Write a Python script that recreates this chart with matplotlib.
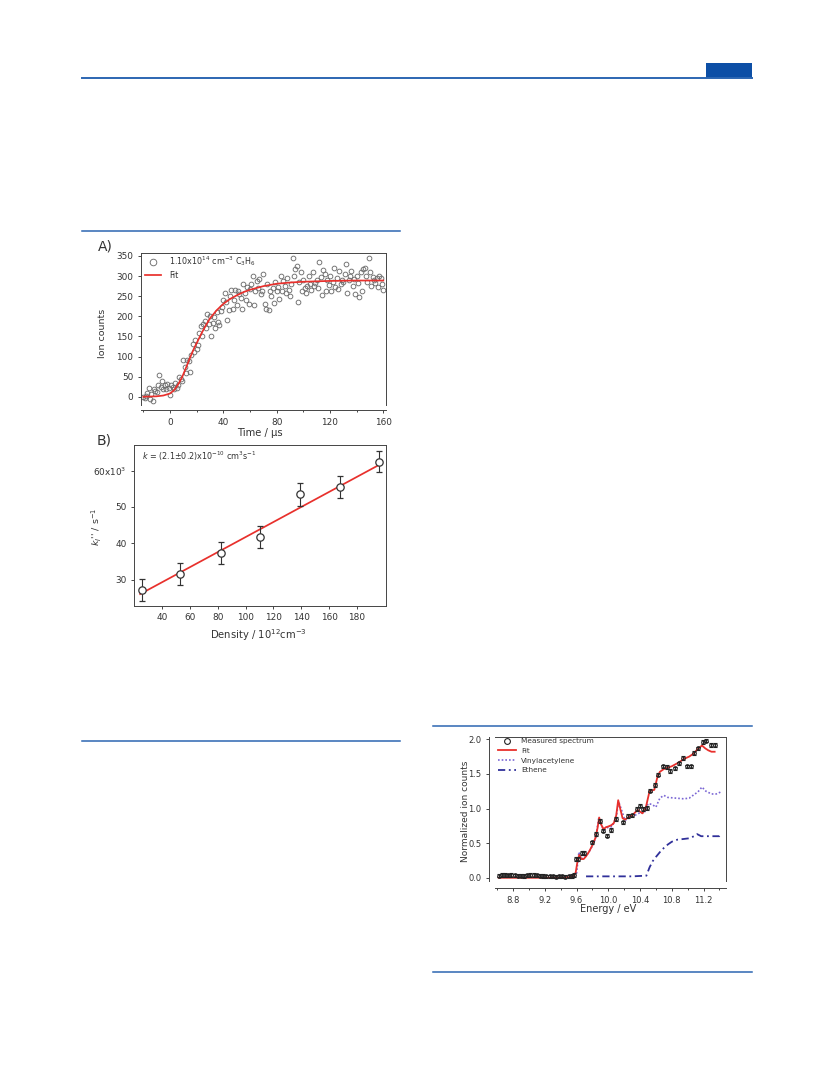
import matplotlib
matplotlib.use('Agg')
import matplotlib.pyplot as plt
from matplotlib.lines import Line2D
from matplotlib.patches import Rectangle
from matplotlib.ticker import MultipleLocator

W, H = 833, 1091

# ---------------- panel A : ion signal vs time ----------------
t_us = list(range(-20, 161))
ion_counts = [
    0, -2, 3, 10, 22, -5, 8, -10, 20, 14,
    12, 30, 55, 25, 38, 20, 28, 18, 32, 22,
    5, 28, 24, 20, 35, 22, 30, 48, 45, 40,
    92, 75, 60, 92, 88, 62, 105, 132, 110, 140,
    118, 128, 158, 175, 150, 182, 188, 170, 205, 180,
    200, 150, 184, 198, 172, 210, 185, 178, 212, 224,
    240, 258, 235, 190, 215, 250, 266, 218, 240, 265,
    228, 262, 255, 245, 218, 280, 258, 240, 272, 230,
    268, 280, 300, 228, 262, 288, 270, 292, 255, 262,
    305, 230, 218, 280, 215, 262, 250, 270, 232, 286,
    262, 272, 242, 300, 262, 288, 275, 258, 295, 265,
    250, 280, 345, 300, 318, 325, 235, 285, 310, 262,
    290, 270, 258, 275, 300, 280, 265, 310, 275, 282,
    290, 270, 335, 298, 253, 315, 305, 262, 290, 278,
    300, 262, 285, 320, 272, 295, 268, 312, 280, 290,
    285, 305, 330, 258, 290, 300, 312, 276, 292, 255,
    300, 282, 248, 310, 262, 318, 320, 300, 286, 345,
    310, 275, 298, 290, 282, 296, 272, 300, 295, 280,
    265]
fit_t = [-20, -10, -5, 0, 3, 6, 9, 12, 15, 18, 21, 24, 27, 30, 35, 40, 45,
         50, 55, 60, 70, 80, 90, 100, 120, 140, 160]
fit_counts = [0, 1, 3, 8, 16, 30, 48, 72, 97, 120, 140, 160, 178, 195, 215,
              231, 243, 252, 260, 266, 275, 281, 284, 286, 288, 289, 289]

# ---------------- panel B : pseudo first order rate vs density ----------------
density = [25, 53, 82, 110, 139, 168, 196]
k_first = [27.2, 31.5, 37.3, 41.7, 53.5, 55.6, 62.5]
k_err = [3.0, 3.0, 3.0, 3.0, 3.1, 3.0, 3.0]
fit_dens = [24, 198]
fit_k = [26.0, 62.0]

# ---------------- panel C : photoionization spectrum ----------------
spec_e = [8.62, 8.66, 8.70, 8.74, 8.78, 8.82, 8.86, 8.90, 8.94, 8.98,
          9.02, 9.06, 9.10, 9.14, 9.18, 9.22, 9.26, 9.30, 9.34, 9.38,
          9.42, 9.46, 9.50, 9.54, 9.57, 9.59, 9.62, 9.67, 9.70, 9.79,
          9.84, 9.89, 9.93, 9.98, 10.04, 10.10, 10.19, 10.25, 10.30, 10.36,
          10.40, 10.44, 10.49, 10.53, 10.59, 10.63, 10.69, 10.74, 10.78, 10.84,
          10.89, 10.94, 10.99, 11.04, 11.08, 11.13, 11.19, 11.23, 11.30, 11.35]
spec_y = [0.03, 0.04, 0.04, 0.035, 0.04, 0.035, 0.03, 0.03, 0.025, 0.035,
          0.04, 0.04, 0.035, 0.03, 0.025, 0.02, 0.02, 0.02, 0.015, 0.02,
          0.02, 0.015, 0.02, 0.025, 0.04, 0.27, 0.27, 0.36, 0.36, 0.51,
          0.63, 0.82, 0.68, 0.61, 0.69, 0.85, 0.80, 0.89, 0.90, 0.99,
          1.04, 0.99, 1.01, 1.26, 1.34, 1.49, 1.61, 1.60, 1.54, 1.58,
          1.65, 1.73, 1.61, 1.61, 1.80, 1.87, 1.96, 1.98, 1.92, 1.92]
spec_err = 0.025

fit_e = [8.62, 9.0, 9.4, 9.54, 9.57, 9.59, 9.61, 9.635, 9.66, 9.69,
         9.72, 9.76, 9.80, 9.84, 9.865, 9.885, 9.91, 9.94, 9.97, 10.0,
         10.04, 10.07, 10.10, 10.125, 10.15, 10.18, 10.21, 10.25, 10.30, 10.37,
         10.43, 10.47, 10.52, 10.58, 10.62, 10.65, 10.70, 10.75, 10.80, 10.88,
         10.96, 11.02, 11.07, 11.12, 11.18, 11.22, 11.26, 11.30, 11.34]
fit_y = [0.0, 0.0, 0.0, 0.01, 0.03, 0.08, 0.22, 0.33, 0.27, 0.27,
         0.31, 0.38, 0.47, 0.58, 0.72, 0.87, 0.77, 0.70, 0.73, 0.74,
         0.76, 0.79, 0.90, 1.12, 1.00, 0.86, 0.84, 0.87, 0.90, 0.98,
         0.93, 1.00, 1.25, 1.27, 1.46, 1.53, 1.57, 1.59, 1.61, 1.66,
         1.72, 1.75, 1.79, 1.85, 1.91, 1.87, 1.84, 1.82, 1.82]

va_e = [9.60, 9.63, 9.66, 9.70, 9.75, 9.80, 9.84, 9.88, 9.91, 9.95,
        10.0, 10.05, 10.10, 10.13, 10.17, 10.21, 10.30, 10.40, 10.45, 10.50,
        10.55, 10.60, 10.65, 10.70, 10.75, 10.85, 10.95, 11.02, 11.08, 11.13,
        11.18, 11.23, 11.30, 11.36, 11.42]
va_y = [0.06, 0.37, 0.27, 0.29, 0.36, 0.46, 0.57, 0.86, 0.76, 0.69,
        0.73, 0.74, 0.88, 1.10, 0.97, 0.83, 0.88, 0.94, 0.93, 1.07,
        1.06, 1.02, 1.15, 1.19, 1.16, 1.15, 1.14, 1.15, 1.20, 1.24,
        1.31, 1.25, 1.21, 1.21, 1.24]

eth_e = [9.72, 10.0, 10.30, 10.48, 10.52, 10.56, 10.60, 10.65, 10.70, 10.75,
         10.80, 10.87, 10.95, 11.02, 11.08, 11.12, 11.17, 11.25, 11.33, 11.40,
         11.43]
eth_y = [0.02, 0.02, 0.02, 0.03, 0.15, 0.24, 0.30, 0.37, 0.43, 0.48,
         0.52, 0.55, 0.56, 0.57, 0.60, 0.63, 0.60, 0.60, 0.60, 0.60,
         0.63]

legend_c = ['Measured spectrum', 'Fit', 'Vinylacetylene', 'Ethene']

red = '#e8302c'
axcol = '#454545'
txtcol = '#333333'
blue = '#2c66b2'

plt.rcParams['font.family'] = ['DejaVu Sans']
plt.rcParams['text.color'] = txtcol
plt.rcParams['axes.labelcolor'] = txtcol
plt.rcParams['xtick.color'] = axcol
plt.rcParams['ytick.color'] = axcol
plt.rcParams['xtick.labelcolor'] = txtcol
plt.rcParams['ytick.labelcolor'] = txtcol
plt.rcParams['axes.edgecolor'] = axcol
plt.rcParams['axes.linewidth'] = 0.7
plt.rcParams['mathtext.default'] = 'regular'


def box(x0, y0, x1, y1):
    return [x0 / W, 1 - y1 / H, (x1 - x0) / W, (y1 - y0) / H]


def style(ax, size=6.4):
    ax.tick_params(which='both', direction='out', labelsize=size, width=0.7,
                   pad=3)
    ax.tick_params(which='major', length=2.5)
    ax.tick_params(which='minor', length=1.6)


fig = plt.figure(figsize=(W / 100, H / 100), dpi=100)

# page rules
def hline(x0, x1, y, lw=1.1):
    fig.add_artist(Line2D([x0 / W, x1 / W], [1 - y / H, 1 - y / H],
                          color=blue, lw=lw))

hline(82, 752, 78, 1.4)
fig.add_artist(Rectangle((706 / W, 1 - 78 / H), 46 / W, 15 / H,
                         color='#0d4fa6', lw=0))
hline(82, 400, 231)
hline(82, 400, 741)
hline(433, 752, 726)
hline(433, 752, 972)

# ---------------- A ----------------
ax_a = fig.add_axes(box(141, 252.7, 386, 405))
ax_a.plot(t_us, ion_counts, 'o', ms=3.4, mfc='none', mec='#6e6e6e', mew=0.65,
          label=r'1.10x10$^{14}$ cm$^{-3}$ C$_3$H$_6$')
ax_a.plot(fit_t, fit_counts, color=red, lw=1.25, label='Fit')
ax_a.set_xlim(-21.75, 162)
ax_a.set_ylim(-20.6, 358.2)
ax_a.xaxis.set_major_locator(MultipleLocator(40))
ax_a.xaxis.set_minor_locator(MultipleLocator(20))
ax_a.yaxis.set_major_locator(MultipleLocator(50))
ax_a.spines['bottom'].set_position(('outward', 3.6))
style(ax_a)
ax_a.set_xlabel('Time / µs', fontsize=7.2)
ax_a.set_ylabel('Ion counts', fontsize=6.8)
ax_a.xaxis.set_label_coords(0.486, -0.15)
ax_a.yaxis.set_label_coords(-0.14, 0.473)
ax_a.legend(loc='upper left', bbox_to_anchor=(0.01, 1.0), frameon=False,
            fontsize=5.8, handlelength=2.0, handletextpad=1.0,
            borderpad=0.2, borderaxespad=0.0, labelspacing=0.3,
            markerscale=1.4)
fig.text(98 / W, 1 - 246 / H, 'A)', fontsize=10, va='center', ha='left')

# ---------------- B ----------------
ax_b = fig.add_axes(box(134.3, 445, 386, 605.7))
ax_b.plot(fit_dens, fit_k, color=red, lw=1.25, zorder=2)
ax_b.errorbar(density, k_first, yerr=k_err, fmt='o', ms=5.3, mfc='white',
              mec='#333333', mew=0.9, ecolor='#333333', elinewidth=0.8,
              capsize=2.0, capthick=0.8, zorder=3)
ax_b.set_xlim(19.8, 201)
ax_b.set_ylim(22.8, 67.07)
ax_b.set_xticks([40, 60, 80, 100, 120, 140, 160, 180])
ax_b.set_yticks([30, 40, 50, 60])
ax_b.set_yticklabels(['30', '40', '50', r'60x10$^3$'])
style(ax_b)
ax_b.set_xlabel(r'Density / 10$^{12}$cm$^{-3}$', fontsize=7.2)
ax_b.set_ylabel(r"$\it{k}_{I}$'' / s$^{-1}$", fontsize=6.8)
ax_b.xaxis.set_label_coords(0.495, -0.135)
ax_b.yaxis.set_label_coords(-0.122, 0.49)
ax_b.text(0.03, 0.927, r'$\it{k}$ = (2.1±0.2)x10$^{-10}$ cm$^3$s$^{-1}$',
          transform=ax_b.transAxes, fontsize=5.8, va='center', ha='left')
fig.text(97 / W, 1 - 440 / H, 'B)', fontsize=10, va='center', ha='left')

# ---------------- C ----------------
ax_c = fig.add_axes(box(495, 736.7, 726, 881))
cont = ax_c.errorbar(spec_e, spec_y, yerr=spec_err, fmt='o', ms=2.6,
                     mfc='none', mec='#222222', mew=0.8, ecolor='#222222',
                     elinewidth=0.7, capsize=1.3, capthick=0.7, zorder=4)
ln_fit, = ax_c.plot(fit_e, fit_y, color=red, lw=1.3, zorder=3)
ln_va, = ax_c.plot(va_e, va_y, color='#7a66d4', lw=1.2, ls=(0, (1, 1.2)),
                   zorder=2)
ln_eth, = ax_c.plot(eth_e, eth_y, color='#30309a', lw=1.3,
                    ls=(0, (4, 2, 1, 2)), zorder=2)
ax_c.set_xlim(8.573, 11.483)
ax_c.set_ylim(-0.047, 2.037)
ax_c.xaxis.set_minor_locator(MultipleLocator(0.2))
ax_c.set_xticks([8.8, 9.2, 9.6, 10.0, 10.4, 10.8, 11.2])
ax_c.set_xticklabels(['8.8', '9.2', '9.6', '10.0', '10.4', '10.8', '11.2'])
ax_c.set_yticks([0.0, 0.5, 1.0, 1.5, 2.0])
ax_c.set_yticklabels(['0.0', '0.5', '1.0', '1.5', '2.0'])
ax_c.spines['left'].set_position(('outward', 4.3))
ax_c.spines['bottom'].set_position(('outward', 5.0))
style(ax_c, 6.0)
ax_c.set_xlabel('Energy / eV', fontsize=7.0)
ax_c.set_ylabel('Normalized ion counts', fontsize=6.5)
ax_c.xaxis.set_label_coords(0.49, -0.16)
ax_c.yaxis.set_label_coords(-0.11, 0.485)
ax_c.legend([cont.lines[0], ln_fit, ln_va, ln_eth], legend_c,
            loc='upper left', bbox_to_anchor=(0.01, 0.996), frameon=False,
            fontsize=5.3, handlelength=2.5, handletextpad=0.6,
            borderpad=0.1, borderaxespad=0.0, labelspacing=0.48,
            markerscale=1.6)

fig.savefig('out.png', dpi=100)
